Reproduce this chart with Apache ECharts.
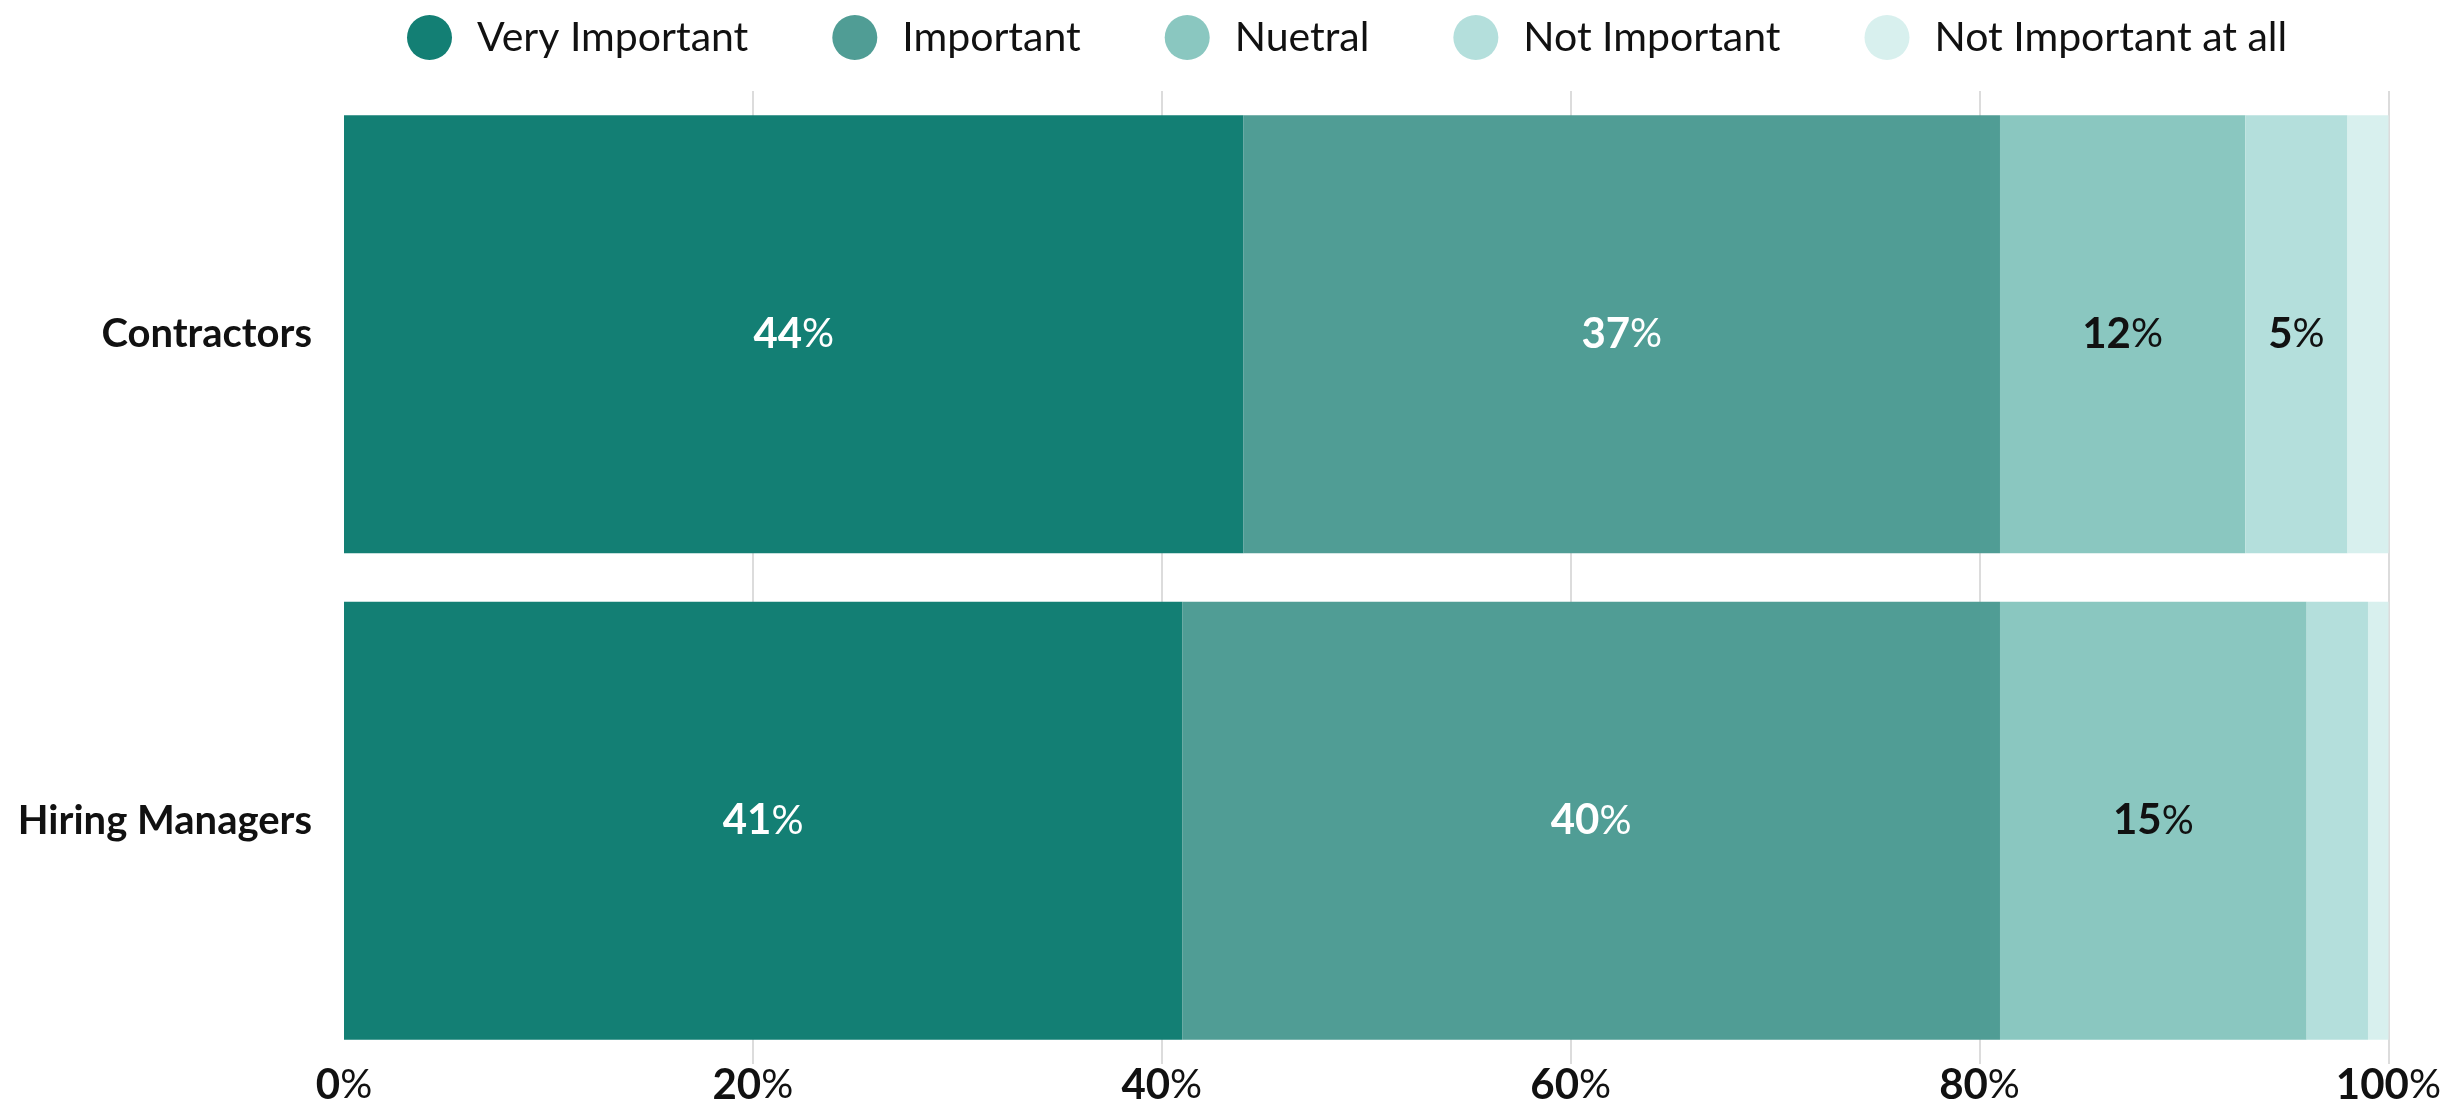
<!DOCTYPE html>
<html>
<head>
<meta charset="utf-8">
<script src="https://cdn.jsdelivr.net/npm/echarts@6/dist/echarts.min.js"></script>
<style>
  html, body { margin: 0; padding: 0; background: #fff; }
  #chart { width: 2444px; height: 1106px; }
</style>
</head>
<body>
<div id="chart"></div>
<script>
var categories = ['Contractors', 'Hiring Managers'];
var seriesNames = ['Very Important', 'Important', 'Nuetral', 'Not Important', 'Not Important at all'];
var veryImportant = [44, 41];
var important = [37, 40];
var nuetral = [12, 15];
var notImportant = [5, 3];
var notImportantAtAll = [2, 1];
var xTicks = [0, 20, 40, 60, 80, 100];

var colors = ['#137f74', '#509d95', '#8ac7c0', '#b4dfdc', '#d8f0ee'];
var labelColors = ['#ffffff', '#ffffff', '#111111', '#111111', '#111111'];
var values = [veryImportant, important, nuetral, notImportant, notImportantAtAll];
var font = 'Lato';

function makeSeries(i) {
    return {
        name: seriesNames[i],
        type: 'bar',
        stack: 'total',
        barCategoryGap: '10%',
        itemStyle: {color: colors[i]},
        label: {
            show: true,
            position: 'inside',
            color: labelColors[i],
            formatter: function (p) {
                return p.value >= 5 ? '{n|' + p.value + '}{p|%}' : '';
            },
            rich: {
                n: {fontFamily: font, fontWeight: 'bold', fontSize: 42, color: labelColors[i]},
                p: {fontFamily: font, fontWeight: 'normal', fontSize: 40, color: labelColors[i]}
            }
        },
        data: values[i]
    };
}

var chart = echarts.init(document.getElementById('chart'));
var option = {
    animation: false,
    textStyle: {fontFamily: font},
    legend: {
        data: seriesNames,
        left: 402,
        top: 10,
        icon: 'circle',
        itemWidth: 45,
        itemHeight: 45,
        itemGap: 84,
        textStyle: {fontFamily: font, fontSize: 41, color: '#111', padding: [0, 0, 0, 20]}
    },
    grid: {left: 344, right: 54, top: 91, bottom: 42},
    xAxis: {
        type: 'value',
        min: xTicks[0],
        max: xTicks[xTicks.length - 1],
        interval: xTicks[1] - xTicks[0],
        axisLine: {show: false},
        axisTick: {show: false},
        splitLine: {show: true, showMinLine: false, lineStyle: {color: '#dcdcdc', width: 2}},
        axisLabel: {
            margin: 0,
            formatter: function (v) { return '{n|' + v + '}{p|%}'; },
            rich: {
                n: {fontFamily: font, fontWeight: 'bold', fontSize: 42, color: '#111'},
                p: {fontFamily: font, fontWeight: 'normal', fontSize: 40, color: '#111'}
            }
        }
    },
    yAxis: {
        type: 'category',
        inverse: true,
        data: categories,
        axisLine: {show: false},
        axisTick: {show: false},
        axisLabel: {margin: 32, fontFamily: font, fontWeight: 'bold', fontSize: 40, color: '#111'}
    },
    series: [0, 1, 2, 3, 4].map(makeSeries)
};
chart.setOption(option);
window.addEventListener('resize', function () { chart.resize(); });
</script>
</body>
</html>
